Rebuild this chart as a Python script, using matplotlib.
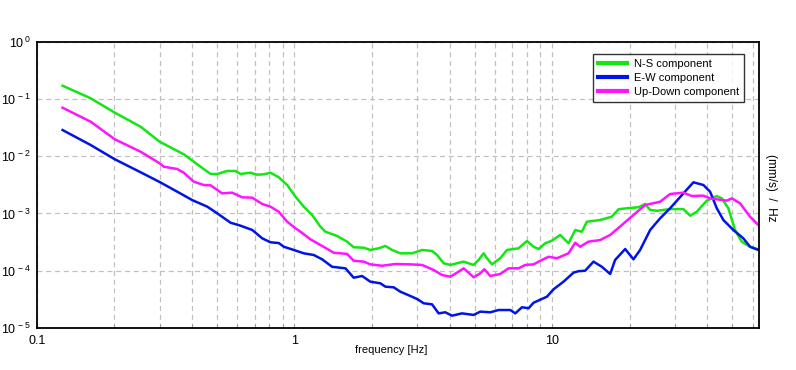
import numpy as np
import matplotlib
matplotlib.use('Agg')
import matplotlib.pyplot as plt
from matplotlib.ticker import LogLocator, FixedLocator, FixedFormatter, NullFormatter

plt.rcParams['font.family'] = ['Liberation Sans', 'DejaVu Sans']
plt.rcParams['mathtext.fontset'] = 'custom'
plt.rcParams['mathtext.rm'] = 'Liberation Sans'
plt.rcParams['mathtext.it'] = 'Liberation Sans'

# values (frequency in Hz, amplitude in (mm/s)/sqrt(Hz))
ns_freq = [0.126, 0.162, 0.201, 0.253, 0.300, 0.372, 0.432, 0.473, 0.502, 0.548,
           0.590, 0.618, 0.675, 0.717, 0.760, 0.807, 0.869, 0.937, 1.009, 1.087,
           1.171, 1.261, 1.319, 1.464, 1.601, 1.697, 1.856, 1.970, 2.122, 2.253,
           2.391, 2.575, 2.859, 3.126, 3.418, 3.574, 3.791, 4.024, 4.531, 4.954,
           5.180, 5.417, 5.584, 5.839, 6.287, 6.674, 7.403, 7.980, 8.464, 8.850,
           9.396, 9.973, 10.74, 11.57, 12.28, 13.03, 13.63, 15.35, 17.03, 18.07,
           19.48, 21.60, 22.93, 23.98, 25.46, 28.67, 32.29, 34.27, 36.38, 39.78,
           43.50, 45.48, 48.23, 51.21, 54.36, 58.53, 63.04]
ns_vals = [0.169, 0.102, 0.0572, 0.0326, 0.0178, 0.01075, 0.00653, 0.00487, 0.00487, 0.00550,
           0.00550, 0.00487, 0.00513, 0.00474, 0.00481, 0.00513, 0.00427, 0.00313, 0.00196, 0.00131,
           0.000938, 0.000586, 0.000479, 0.000403, 0.000321, 0.000256, 0.000252, 0.000230, 0.000246, 0.000270,
           0.000230, 0.000201, 0.000201, 0.000230, 0.000221, 0.000188, 0.000135, 0.000126, 0.000144, 0.000126,
           0.000154, 0.000201, 0.000165, 0.000129, 0.000165, 0.000230, 0.000246, 0.000330, 0.000262, 0.000239,
           0.000301, 0.000334, 0.000420, 0.000301, 0.000513, 0.000479, 0.000716, 0.000767, 0.000876, 0.00118,
           0.00123, 0.00128, 0.00146, 0.00115, 0.00111, 0.00119, 0.00119, 0.000912, 0.00107, 0.00167,
           0.00201, 0.00183, 0.00123, 0.000513, 0.000321, 0.000262, 0.000236]

ew_freq = [0.126, 0.162, 0.201, 0.253, 0.300, 0.351, 0.401, 0.459, 0.502, 0.565,
           0.618, 0.686, 0.750, 0.807, 0.869, 0.909, 0.994, 1.087, 1.188, 1.280,
           1.400, 1.577, 1.697, 1.830, 1.970, 2.154, 2.253, 2.426, 2.575, 2.816,
           3.006, 3.171, 3.418, 3.625, 3.849, 4.085, 4.467, 4.954, 5.260, 5.751,
           6.193, 6.874, 7.188, 7.631, 8.095, 8.464, 9.539, 10.12, 11.06, 12.09,
           12.64, 13.42, 14.46, 15.58, 16.78, 17.54, 19.19, 20.66, 21.93, 23.98,
           26.22, 28.67, 32.29, 35.30, 38.59, 40.97, 43.50, 46.13, 50.43, 55.14,
           58.53, 63.04]
ew_vals = [0.0285, 0.0156, 0.00879, 0.00522, 0.00353, 0.00239, 0.00171, 0.00131, 0.00100, 0.000688,
           0.000610, 0.000513, 0.000367, 0.000313, 0.000304, 0.000262, 0.000230, 0.000201, 0.000188, 0.000158,
           0.000117, 0.000110, 0.0000755, 0.0000808, 0.0000643, 0.0000603, 0.0000526, 0.0000513, 0.0000430, 0.0000362,
           0.0000317, 0.0000270, 0.0000259, 0.0000180, 0.0000188, 0.0000164, 0.0000180, 0.0000169, 0.0000193, 0.0000188,
           0.0000206, 0.0000206, 0.0000180, 0.0000230, 0.0000221, 0.0000276, 0.0000352, 0.0000474, 0.0000643, 0.0000923,
           0.0000980, 0.000100, 0.000144, 0.000117, 0.0000876, 0.000154, 0.000239, 0.000158, 0.000230, 0.000513,
           0.000821, 0.00123, 0.00224, 0.00349, 0.00313, 0.00239, 0.00123, 0.000767, 0.000513, 0.000367,
           0.000262, 0.000230]

ud_freq = [0.126, 0.162, 0.201, 0.253, 0.300, 0.311, 0.351, 0.372, 0.407, 0.445,
           0.473, 0.524, 0.573, 0.627, 0.686, 0.750, 0.807, 0.869, 0.937, 1.009,
           1.055, 1.153, 1.261, 1.420, 1.601, 1.697, 1.856, 1.970, 2.188, 2.463,
           2.816, 3.126, 3.467, 3.737, 4.024, 4.271, 4.531, 4.738, 4.954, 5.260,
           5.451, 5.751, 6.287, 6.770, 7.403, 7.859, 8.464, 9.123, 9.676, 10.43,
           11.57, 12.28, 12.84, 13.82, 15.35, 16.78, 18.63, 20.66, 22.93, 26.22,
           28.67, 32.29, 34.80, 38.59, 40.97, 47.55, 49.72, 53.54, 58.53, 63.04]
ud_vals = [0.0699, 0.0398, 0.0196, 0.01193, 0.00748, 0.00653, 0.00595, 0.00513, 0.00357, 0.00313,
           0.00309, 0.00224, 0.00230, 0.00191, 0.00188, 0.00146, 0.00131, 0.00107, 0.000716, 0.000550,
           0.000479, 0.000353, 0.000281, 0.000206, 0.000196, 0.000149, 0.000144, 0.000129, 0.000122, 0.000131,
           0.000129, 0.000126, 0.000103, 0.0000841, 0.0000786, 0.0000923, 0.000110, 0.0000923, 0.0000767, 0.0000901,
           0.000106, 0.0000808, 0.0000876, 0.000110, 0.000110, 0.000126, 0.000129, 0.000154, 0.000175, 0.000165,
           0.000201, 0.000308, 0.000262, 0.000321, 0.000343, 0.000420, 0.000628, 0.000938, 0.00140, 0.00160,
           0.00218, 0.00230, 0.00201, 0.00204, 0.00183, 0.00167, 0.00183, 0.00150, 0.000876, 0.000628]

labels = ['N-S component', 'E-W component', 'Up-Down component']
colors = ['#14e614', '#0014e6', '#ff14ff']
x_ticks = [0.1, 1, 10]
x_ticklabels = ['0.1', '1', '10']
y_ticks = [1e-5, 1e-4, 1e-3, 1e-2, 1e-1, 1]
y_exps = ['-5', '-4', '-3', '-2', '-1', '0']

fig = plt.figure(figsize=(7.96, 3.70), dpi=100)
ax = fig.add_axes([36.7 / 796, 1 - 328 / 370, (759.5 - 36.7) / 796, (328 - 41.5) / 370])

series = [(ns_freq, ns_vals), (ew_freq, ew_vals), (ud_freq, ud_vals)]
for (f, v), lab, c in zip(series, labels, colors):
    ax.plot(f, v, color=c, linewidth=1.8, label=lab, solid_joinstyle='round')

ax.set_xscale('log')
ax.set_yscale('log')
ax.set_xlim(0.1, 63.7)
ax.set_ylim(1e-5, 1)

ax.xaxis.set_major_locator(FixedLocator(x_ticks))
ax.xaxis.set_major_formatter(FixedFormatter(x_ticklabels))
ax.xaxis.set_minor_locator(LogLocator(base=10, subs=np.arange(2, 10), numticks=20))
ax.xaxis.set_minor_formatter(NullFormatter())
ax.yaxis.set_major_locator(FixedLocator(y_ticks))
ax.yaxis.set_major_formatter(FixedFormatter([r'$\mathregular{10^{\,%s}}$' % e for e in y_exps]))
ax.yaxis.set_minor_locator(FixedLocator([]))

ax.grid(True, which='both', axis='x', color='#c0c0c0', linestyle=(0, (4, 3)), linewidth=0.9)
ax.grid(True, which='major', axis='y', color='#c0c0c0', linestyle=(0, (4, 3)), linewidth=0.9)
ax.set_axisbelow(True)

ax.tick_params(axis='x', which='both', direction='in', length=3, width=0.6, labelsize=9, pad=5, color='#909090')
ax.tick_params(axis='y', which='both', length=0, labelsize=9, pad=4)
for s in ax.spines.values():
    s.set_linewidth(1.3)
    s.set_color('black')

fig.text(391 / 796, 1 - 350 / 370, 'frequency [Hz]', ha='center', va='center', fontsize=8)
fig.text(771 / 796, 1 - 188 / 370, '(mm/s)  /  Hz', ha='center', va='center', rotation=-90, fontsize=8.5)

leg = ax.legend(loc='upper left', bbox_to_anchor=(593 / 796, 1 - 54 / 370), bbox_transform=fig.transFigure,
                borderaxespad=0, fontsize=8, frameon=True, fancybox=False, handlelength=2.6,
                handletextpad=0.6, labelspacing=0.35, borderpad=0.45)
leg.get_frame().set_edgecolor('black')
leg.get_frame().set_linewidth(1.0)
for line in leg.get_lines():
    line.set_linewidth(3)

fig.savefig('out.png', dpi=100)
